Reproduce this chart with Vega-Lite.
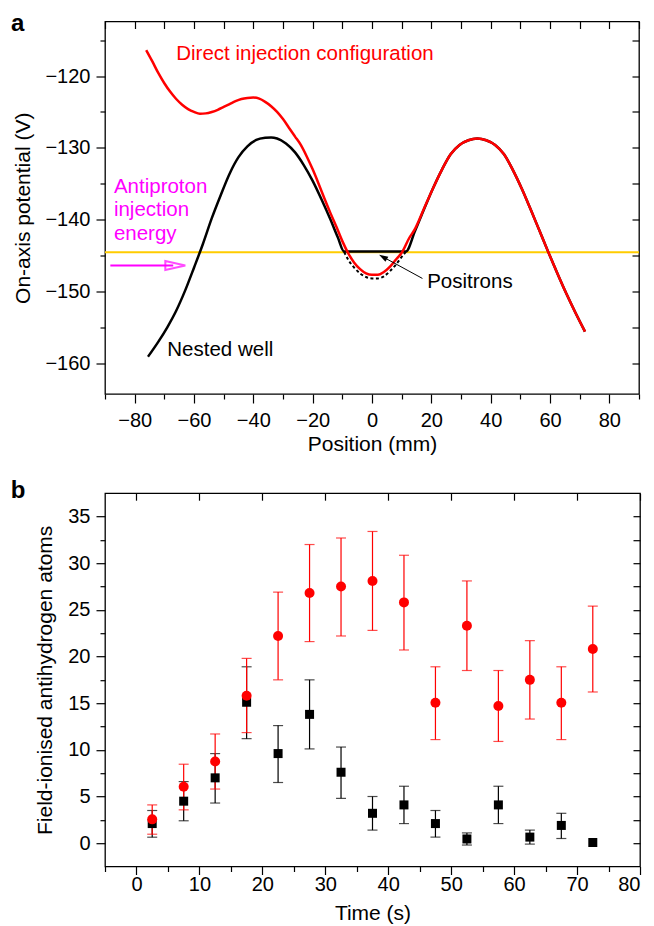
{
  "$schema": "https://vega.github.io/schema/vega-lite/v6.json",
  "padding": {"left": 10, "top": 10.5, "right": 5, "bottom": 0},
  "background": "white",
  "spacing": 22.7,
  "config": {
    "font": "Liberation Sans",
    "view": {"stroke": "black", "strokeWidth": 1.3},
    "axis": {"domain": false, "grid": false, "labelFont": "Liberation Sans", "labelFontSize": 20, "labelColor": "black", "titleFont": "Liberation Sans", "titleFontSize": 21, "titleFontWeight": "normal", "titleColor": "black", "tickColor": "black", "tickWidth": 1.2, "labelPadding": 6},
    "title": {"font": "Liberation Sans", "fontSize": 24, "fontWeight": "bold", "color": "black", "anchor": "start", "frame": "group", "offset": 0, "baseline": "alphabetic"},
    "text": {"font": "Liberation Sans"}
  },
  "datasets": {
    "yellow": [{"x": -90, "v": -144.55}, {"x": 90, "v": -144.55}],
    "black": [
      {"x": -75.5, "v": -159.1}, {"x": -72, "v": -157.0}, {"x": -69, "v": -155.0}, {"x": -66, "v": -152.7},
      {"x": -63, "v": -149.9}, {"x": -60, "v": -146.7}, {"x": -57, "v": -143.4}, {"x": -54, "v": -139.8},
      {"x": -51, "v": -136.6}, {"x": -48, "v": -133.6}, {"x": -45, "v": -131.3}, {"x": -42, "v": -129.8},
      {"x": -39, "v": -128.9}, {"x": -36, "v": -128.6}, {"x": -34, "v": -128.55}, {"x": -32, "v": -128.7},
      {"x": -29, "v": -129.4}, {"x": -26, "v": -130.6}, {"x": -23, "v": -132.4}, {"x": -20, "v": -134.6},
      {"x": -17, "v": -137.2}, {"x": -14, "v": -140.0}, {"x": -11.5, "v": -142.5}, {"x": -9.4, "v": -144.45},
      {"x": 11.4, "v": -144.45}, {"x": 14.5, "v": -141.6}, {"x": 17.5, "v": -138.6}, {"x": 20.5, "v": -135.7},
      {"x": 23.5, "v": -133.1}, {"x": 26.5, "v": -130.9}, {"x": 29.5, "v": -129.6}, {"x": 32.5, "v": -128.95},
      {"x": 35.5, "v": -128.7}, {"x": 38.5, "v": -128.95}, {"x": 41.5, "v": -129.6}, {"x": 44.5, "v": -130.9},
      {"x": 47.5, "v": -133.1}, {"x": 50.5, "v": -135.7}, {"x": 53.5, "v": -138.6}, {"x": 56.5, "v": -141.6},
      {"x": 59.5, "v": -144.6}, {"x": 62.5, "v": -147.5}, {"x": 65.5, "v": -150.3}, {"x": 68.5, "v": -152.9},
      {"x": 71.8, "v": -155.6}
    ],
    "positrons": [
      {"x": -9.4, "v": -144.5}, {"x": -8, "v": -145.6}, {"x": -6, "v": -146.7}, {"x": -4, "v": -147.5},
      {"x": -2, "v": -148.0}, {"x": 0, "v": -148.2}, {"x": 2, "v": -148.2}, {"x": 4, "v": -147.9},
      {"x": 6, "v": -147.2}, {"x": 8, "v": -146.3}, {"x": 10, "v": -145.2}, {"x": 11.4, "v": -144.5}
    ],
    "red": [
      {"x": -76.1, "v": -116.4}, {"x": -74, "v": -118.0}, {"x": -72, "v": -119.6}, {"x": -70, "v": -121.0},
      {"x": -68, "v": -122.2}, {"x": -66, "v": -123.2}, {"x": -64, "v": -124.0}, {"x": -62, "v": -124.6},
      {"x": -60, "v": -125.0}, {"x": -58, "v": -125.25}, {"x": -56, "v": -125.2}, {"x": -54, "v": -125.0},
      {"x": -52, "v": -124.7}, {"x": -50, "v": -124.3}, {"x": -48, "v": -123.9}, {"x": -46, "v": -123.5},
      {"x": -44, "v": -123.2}, {"x": -42, "v": -123.05}, {"x": -40, "v": -123.0}, {"x": -38, "v": -123.15},
      {"x": -36, "v": -123.6}, {"x": -34, "v": -124.2}, {"x": -32, "v": -125.0}, {"x": -30, "v": -126.0},
      {"x": -28, "v": -127.2}, {"x": -26, "v": -128.4}, {"x": -24, "v": -129.6}, {"x": -22, "v": -131.2},
      {"x": -20, "v": -133.0}, {"x": -18, "v": -135.0}, {"x": -16, "v": -137.1}, {"x": -14, "v": -139.1},
      {"x": -12, "v": -141.0}, {"x": -10, "v": -143.0}, {"x": -8, "v": -144.7}, {"x": -6, "v": -146.0},
      {"x": -4, "v": -146.9}, {"x": -2, "v": -147.5}, {"x": 0, "v": -147.7}, {"x": 2, "v": -147.7},
      {"x": 4, "v": -147.3}, {"x": 6, "v": -146.6}, {"x": 8, "v": -145.6}, {"x": 10.2, "v": -144.5},
      {"x": 12.5, "v": -142.6}, {"x": 14.5, "v": -141.3}, {"x": 17.5, "v": -138.5}, {"x": 20.5, "v": -135.7},
      {"x": 23.5, "v": -133.1}, {"x": 26.5, "v": -130.9}, {"x": 29.5, "v": -129.6}, {"x": 32.5, "v": -128.95},
      {"x": 35.5, "v": -128.7}, {"x": 38.5, "v": -128.95}, {"x": 41.5, "v": -129.6}, {"x": 44.5, "v": -130.9},
      {"x": 47.5, "v": -133.1}, {"x": 50.5, "v": -135.7}, {"x": 53.5, "v": -138.6}, {"x": 56.5, "v": -141.6},
      {"x": 59.5, "v": -144.6}, {"x": 62.5, "v": -147.5}, {"x": 65.5, "v": -150.3}, {"x": 68.5, "v": -152.9},
      {"x": 71.8, "v": -155.6}
    ],
    "pb_black": [
      {"t": 2.5, "v": 2.1, "lo": 0.64, "hi": 3.5},
      {"t": 7.5, "v": 4.5, "lo": 2.4, "hi": 6.6},
      {"t": 12.5, "v": 7.0, "lo": 4.3, "hi": 9.6},
      {"t": 17.5, "v": 15.1, "lo": 11.2, "hi": 18.9},
      {"t": 22.5, "v": 9.6, "lo": 6.5, "hi": 12.6},
      {"t": 27.5, "v": 13.8, "lo": 10.1, "hi": 17.5},
      {"t": 32.5, "v": 7.6, "lo": 4.8, "hi": 10.3},
      {"t": 37.5, "v": 3.2, "lo": 1.4, "hi": 5.0},
      {"t": 42.5, "v": 4.1, "lo": 2.1, "hi": 6.1},
      {"t": 47.5, "v": 2.1, "lo": 0.65, "hi": 3.5},
      {"t": 52.5, "v": 0.45, "lo": -0.2, "hi": 1.1},
      {"t": 57.5, "v": 4.1, "lo": 2.1, "hi": 6.1},
      {"t": 62.5, "v": 0.65, "lo": -0.1, "hi": 1.4},
      {"t": 67.5, "v": 1.9, "lo": 0.5, "hi": 3.2},
      {"t": 72.5, "v": 0.07, "lo": null, "hi": null}
    ],
    "pb_red": [
      {"t": 2.5, "v": 2.55, "lo": 0.96, "hi": 4.1},
      {"t": 7.5, "v": 6.05, "lo": 3.57, "hi": 8.46},
      {"t": 12.5, "v": 8.75, "lo": 5.8, "hi": 11.7},
      {"t": 17.5, "v": 15.8, "lo": 11.85, "hi": 19.8},
      {"t": 22.5, "v": 22.2, "lo": 17.5, "hi": 26.9},
      {"t": 27.5, "v": 26.8, "lo": 21.6, "hi": 32.0},
      {"t": 32.5, "v": 27.5, "lo": 22.2, "hi": 32.7},
      {"t": 37.5, "v": 28.1, "lo": 22.8, "hi": 33.4},
      {"t": 42.5, "v": 25.8, "lo": 20.7, "hi": 30.85},
      {"t": 47.5, "v": 15.05, "lo": 11.1, "hi": 18.9},
      {"t": 52.5, "v": 23.3, "lo": 18.5, "hi": 28.1},
      {"t": 57.5, "v": 14.7, "lo": 10.9, "hi": 18.5},
      {"t": 62.5, "v": 17.5, "lo": 13.3, "hi": 21.7},
      {"t": 67.5, "v": 15.05, "lo": 11.1, "hi": 18.9},
      {"t": 72.5, "v": 20.8, "lo": 16.2, "hi": 25.4}
    ]
  },
  "vconcat": [
    {
      "width": 534,
      "height": 372.5,
      "title": {"text": "a", "dx": -94, "dy": 18.8},
      "layer": [
        {
          "data": {"name": "yellow"},
          "mark": {"type": "line", "color": "#FFCC00", "strokeWidth": 2},
          "encoding": {
            "x": {"field": "x", "type": "quantitative", "scale": {"domain": [-90, 90], "nice": false, "zero": false},
              "axis": {"orient": "bottom", "values": [-80, -60, -40, -20, 0, 20, 40, 60, 80], "tickSize": 9, "labelPadding": 7, "title": "Position (mm)", "titlePadding": 3}},
            "y": {"field": "v", "type": "quantitative", "scale": {"domain": [-164.3, -112.4], "nice": false, "zero": false},
              "axis": {"orient": "left", "values": [-160, -150, -140, -130, -120], "tickSize": 9, "title": "On-axis potential (V)", "titlePadding": 11}}
          }
        },
        {
          "data": {"name": "black"},
          "mark": {"type": "line", "color": "black", "strokeWidth": 2.5, "interpolate": "monotone"},
          "encoding": {
            "x": {"field": "x", "type": "quantitative", "axis": {"orient": "bottom", "values": [-90, -70, -50, -30, -10, 10, 30, 50, 70, 90], "tickSize": 5, "labels": false, "title": null}},
            "y": {"field": "v", "type": "quantitative", "axis": {"orient": "left", "values": [-155, -145, -135, -125, -115], "tickSize": 5, "labels": false, "title": null}}
          }
        },
        {
          "data": {"name": "positrons"},
          "mark": {"type": "line", "color": "black", "strokeWidth": 2, "strokeDash": [3, 2.5], "interpolate": "monotone"},
          "encoding": {
            "x": {"field": "x", "type": "quantitative", "axis": null},
            "y": {"field": "v", "type": "quantitative", "axis": null}
          }
        },
        {
          "data": {"name": "red"},
          "mark": {"type": "line", "color": "#FF0000", "strokeWidth": 2.5, "interpolate": "monotone"},
          "encoding": {
            "x": {"field": "x", "type": "quantitative", "axis": {"orient": "top", "values": [-90, -80, -70, -60, -50, -40, -30, -20, -10, 0, 10, 20, 30, 40, 50, 60, 70, 80, 90], "tickSize": -7, "labels": false, "title": null}},
            "y": {"field": "v", "type": "quantitative", "axis": {"orient": "right", "values": [-160, -155, -150, -145, -140, -135, -130, -125, -120, -115], "tickSize": -7, "labels": false, "title": null}}
          }
        },
        {
          "data": {"values": [{}]},
          "mark": {"type": "rule", "color": "#FF00FF", "strokeWidth": 2},
          "encoding": {
            "x": {"datum": -88.2, "type": "quantitative", "axis": null},
            "x2": {"datum": -67},
            "y": {"datum": -146.4, "type": "quantitative", "axis": null}
          }
        },
        {
          "data": {"values": [{}]},
          "mark": {"type": "point", "shape": "M -1 -0.45 L 1 0 L -1 0.45 Z", "size": 400, "filled": false, "stroke": "#FF00FF", "strokeWidth": 2},
          "encoding": {
            "x": {"datum": -66.3, "type": "quantitative", "axis": null},
            "y": {"datum": -146.4, "type": "quantitative", "axis": null}
          }
        },
        {
          "data": {"values": [{}]},
          "mark": {"type": "rule", "color": "black", "strokeWidth": 1},
          "encoding": {
            "x": {"datum": 17.0, "type": "quantitative", "axis": null},
            "x2": {"datum": 3.7},
            "y": {"datum": -148.2, "type": "quantitative", "axis": null},
            "y2": {"datum": -145.2}
          }
        },
        {
          "data": {"values": [{}]},
          "mark": {"type": "point", "shape": "M -1 0 L 1 -0.65 L 1 0.65 Z", "size": 81, "filled": true, "color": "black", "opacity": 1, "angle": 30},
          "encoding": {
            "x": {"datum": 3.7, "type": "quantitative", "axis": null},
            "y": {"datum": -145.2, "type": "quantitative", "axis": null}
          }
        },
        {
          "data": {"values": [{}]},
          "mark": {"type": "text", "text": "Direct injection configuration", "color": "#FF0000", "fontSize": 20.5, "align": "left", "baseline": "alphabetic"},
          "encoding": {
            "x": {"datum": -66, "type": "quantitative", "axis": null},
            "y": {"datum": -117.7, "type": "quantitative", "axis": null}
          }
        },
        {
          "data": {"values": [{}]},
          "mark": {"type": "text", "text": ["Antiproton", "injection", "energy"], "lineHeight": 23.5, "color": "#FF00FF", "fontSize": 20.5, "align": "left", "baseline": "alphabetic"},
          "encoding": {
            "x": {"datum": -87, "type": "quantitative", "axis": null},
            "y": {"datum": -136.25, "type": "quantitative", "axis": null}
          }
        },
        {
          "data": {"values": [{}]},
          "mark": {"type": "text", "text": "Positrons", "color": "black", "fontSize": 20.5, "align": "left", "baseline": "alphabetic"},
          "encoding": {
            "x": {"datum": 18.6, "type": "quantitative", "axis": null},
            "y": {"datum": -149.6, "type": "quantitative", "axis": null}
          }
        },
        {
          "data": {"values": [{}]},
          "mark": {"type": "text", "text": "Nested well", "color": "black", "fontSize": 20.5, "align": "left", "baseline": "alphabetic"},
          "encoding": {
            "x": {"datum": -69, "type": "quantitative", "axis": null},
            "y": {"datum": -159.0, "type": "quantitative", "axis": null}
          }
        }
      ],
      "resolve": {"axis": {"x": "independent", "y": "independent"}}
    },
    {
      "width": 535,
      "height": 373.3,
      "title": {"text": "b", "dx": -94.3, "dy": 14.4},
      "layer": [
        {
          "data": {"name": "pb_black"},
          "mark": {"type": "rule", "color": "black", "strokeWidth": 1.2},
          "encoding": {
            "x": {"field": "t", "type": "quantitative", "scale": {"domain": [-5, 80], "nice": false, "zero": false},
              "axis": {"orient": "bottom", "values": [0, 10, 20, 30, 40, 50, 60, 70, 80], "tickSize": 8, "labelPadding": 0, "title": "Time (s)", "titlePadding": 8}},
            "y": {"field": "lo", "type": "quantitative", "scale": {"domain": [-2.5, 37.5], "nice": false, "zero": false},
              "axis": {"orient": "left", "values": [0, 5, 10, 15, 20, 25, 30, 35], "tickSize": 9, "title": "Field-ionised antihydrogen atoms", "titlePadding": 12}},
            "y2": {"field": "hi"}
          }
        },
        {
          "data": {"name": "pb_black"},
          "mark": {"type": "tick", "orient": "horizontal", "color": "black", "size": 10, "thickness": 1.2},
          "encoding": {
            "x": {"field": "t", "type": "quantitative", "axis": {"orient": "bottom", "values": [-5, 5, 15, 25, 35, 45, 55, 65, 75], "tickSize": 5, "labels": false, "title": null}},
            "y": {"field": "lo", "type": "quantitative", "axis": {"orient": "left", "values": [2.5, 7.5, 12.5, 17.5, 22.5, 27.5, 32.5], "tickSize": 5, "labels": false, "title": null}}
          }
        },
        {
          "data": {"name": "pb_black"},
          "mark": {"type": "tick", "orient": "horizontal", "color": "black", "size": 10, "thickness": 1.2},
          "encoding": {
            "x": {"field": "t", "type": "quantitative", "axis": {"orient": "top", "values": [0, 10, 20, 30, 40, 50, 60, 70, 80], "tickSize": -7, "labels": false, "title": null}},
            "y": {"field": "hi", "type": "quantitative", "axis": {"orient": "right", "values": [0, 2.5, 5, 7.5, 10, 12.5, 15, 17.5, 20, 22.5, 25, 27.5, 30, 32.5, 35], "tickSize": -7, "labels": false, "title": null}}
          }
        },
        {
          "data": {"name": "pb_red"},
          "mark": {"type": "rule", "color": "#FF0000", "strokeWidth": 1.2},
          "encoding": {
            "x": {"field": "t", "type": "quantitative", "axis": null},
            "y": {"field": "lo", "type": "quantitative", "axis": null},
            "y2": {"field": "hi"}
          }
        },
        {
          "data": {"name": "pb_red"},
          "mark": {"type": "tick", "orient": "horizontal", "color": "#FF0000", "size": 10, "thickness": 1.2},
          "encoding": {
            "x": {"field": "t", "type": "quantitative", "axis": null},
            "y": {"field": "lo", "type": "quantitative", "axis": null}
          }
        },
        {
          "data": {"name": "pb_red"},
          "mark": {"type": "tick", "orient": "horizontal", "color": "#FF0000", "size": 10, "thickness": 1.2},
          "encoding": {
            "x": {"field": "t", "type": "quantitative", "axis": null},
            "y": {"field": "hi", "type": "quantitative", "axis": null}
          }
        },
        {
          "data": {"name": "pb_black"},
          "mark": {"type": "point", "shape": "square", "filled": true, "size": 81, "color": "black", "opacity": 1},
          "encoding": {
            "x": {"field": "t", "type": "quantitative", "axis": null},
            "y": {"field": "v", "type": "quantitative", "axis": null}
          }
        },
        {
          "data": {"name": "pb_red"},
          "mark": {"type": "point", "shape": "circle", "filled": true, "size": 100, "color": "#FF0000", "opacity": 1},
          "encoding": {
            "x": {"field": "t", "type": "quantitative", "axis": null},
            "y": {"field": "v", "type": "quantitative", "axis": null}
          }
        }
      ],
      "resolve": {"axis": {"x": "independent", "y": "independent"}}
    }
  ]
}
